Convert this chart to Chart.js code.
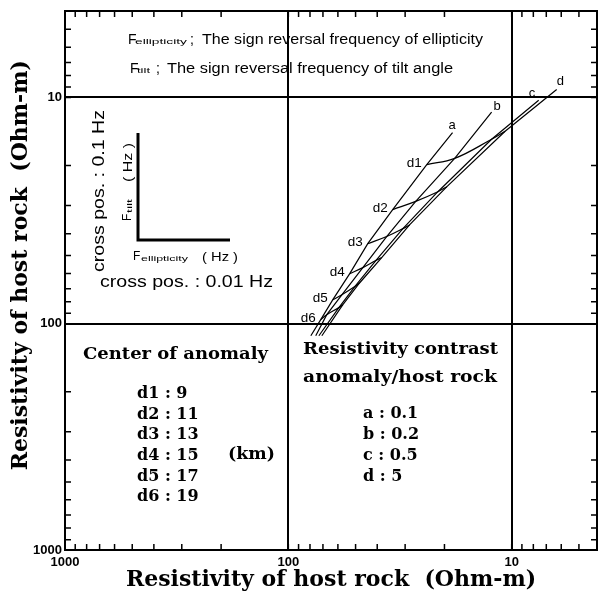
<!DOCTYPE html>
<html>
<head>
<meta charset="utf-8">
<script src="https://cdn.jsdelivr.net/npm/chart.js@4.4.0/dist/chart.umd.min.js"></script>
<style>
  html, body { margin: 0; padding: 0; background: #fff; }
</style>
</head>
<body>
<canvas id="chart" width="599" height="594"></canvas>
<script>
// resistivity contrast lines (anomaly / host rock)
const contrastNames = ['a', 'b', 'c', 'd'];
const contrastRatios = ['0.1', '0.2', '0.5', '5'];

// depth of the anomaly centre
const depthNames = ['d1', 'd2', 'd3', 'd4', 'd5', 'd6'];
const depthKm = [9, 11, 13, 15, 17, 19];

// points on each contrast line: upper end, crossings with d1..d6, lower end
const lineAX = [18.4, 24.0, 34.1, 44.1, 53.1, 63.2, 71.6, 79.3];
const lineAY = [14.3, 19.8, 31.3, 44.3, 60.1, 78.3, 95.9, 113];
const lineBX = [12.3, 18.0, 26.9, 36.3, 46.4, 57.6, 67.3, 75.4];
const lineBY = [11.6, 18.6, 28.8, 41.2, 56.5, 74.5, 91.2, 113];
const lineCX = [7.57, 12.3, 21.4, 30.7, 40.6, 50.4, 59.4, 73.0];
const lineCY = [10.3, 15.3, 26.1, 38.0, 52.6, 68.5, 84.9, 113];
const lineDX = [6.29, 10.7, 19.5, 28.6, 38.2, 47.9, 57.0, 70.8];
const lineDY = [9.22, 14.1, 24.8, 36.5, 51.0, 65.9, 82.4, 113];

const axisMin = 4.15;
const axisMax = 1000;

const linesX = [lineAX, lineBX, lineCX, lineDX];
const linesY = [lineAY, lineBY, lineCY, lineDY];

function isDecade(v) {
    const l = Math.log10(v);
    return Math.abs(l - Math.round(l)) < 1e-6;
}

function logTicks(min, max) {
    const out = [];
    for (let e = Math.floor(Math.log10(min)); e <= Math.ceil(Math.log10(max)); e++) {
        for (let m = 1; m < 10; m++) {
            const v = m * Math.pow(10, e);
            if (v >= min - 1e-9 && v <= max + 1e-9) out.push({ value: v });
        }
    }
    return out;
}

const datasets = [];
contrastNames.forEach((name, k) => {
    datasets.push({
        label: name,
        data: linesX[k].map((x, i) => ({ x: x, y: linesY[k][i] })),
        borderColor: '#000',
        borderWidth: 1.2,
        pointRadius: 0,
        tension: 0
    });
});
depthNames.forEach((name, i) => {
    datasets.push({
        label: name,
        data: linesX.map((xs, k) => ({ x: xs[i + 1], y: linesY[k][i + 1] })),
        borderColor: '#000',
        borderWidth: 1.2,
        pointRadius: 0,
        tension: 0.4
    });
});

const SERIF = '"DejaVu Serif", serif';
const SANS = '"Liberation Sans", Arial, sans-serif';

// draw text squeezed or stretched to a given width
function fitText(ctx, str, x, y, font, width, align) {
    ctx.save();
    ctx.font = font;
    ctx.textBaseline = 'middle';
    ctx.textAlign = 'left';
    const w = ctx.measureText(str).width;
    const sx = width ? width / w : 1;
    let x0 = x;
    if (align === 'right') x0 = x - w * sx;
    ctx.translate(x0, y);
    ctx.scale(sx, 1);
    ctx.fillText(str, 0, 0);
    ctx.restore();
}

const decor = {
    id: 'decor',
    afterDraw(chart) {
        const { ctx, chartArea: area, scales: { x, y } } = chart;
        const L = area.left, T = area.top;
        ctx.save();
        ctx.fillStyle = '#000';
        ctx.strokeStyle = '#000';

        // inward minor ticks on all four sides
        ctx.lineWidth = 1.5;
        ctx.beginPath();
        x.ticks.forEach(t => {
            const px = x.getPixelForValue(t.value);
            ctx.moveTo(px, area.top); ctx.lineTo(px, area.top + 6);
            ctx.moveTo(px, area.bottom); ctx.lineTo(px, area.bottom - 6);
        });
        y.ticks.forEach(t => {
            const py = y.getPixelForValue(t.value);
            ctx.moveTo(area.left, py); ctx.lineTo(area.left + 6, py);
            ctx.moveTo(area.right, py); ctx.lineTo(area.right - 6, py);
        });
        ctx.stroke();
        ctx.lineWidth = 2;
        ctx.strokeRect(area.left, area.top, area.width, area.height);

        // labels of contrast lines at their upper ends
        const endOffsets = [[-1, -7], [5, -6], [-7, -7], [3, -8]];
        contrastNames.forEach((name, k) => {
            const px = x.getPixelForValue(linesX[k][0]) + endOffsets[k][0];
            const py = y.getPixelForValue(linesY[k][0]) + endOffsets[k][1];
            fitText(ctx, name, px - 3, py, '13px ' + SANS);
        });
        // depth labels left of line a
        depthNames.forEach((name, i) => {
            const px = x.getPixelForValue(lineAX[i + 1]) - 5;
            const py = y.getPixelForValue(lineAY[i + 1]) - 1;
            fitText(ctx, name, px, py, '13px ' + SANS, 15, 'right');
        });

        // explanation at the top
        fitText(ctx, 'F', L + 63, T + 29, '14px ' + SANS);
        fitText(ctx, 'ellipticity', L + 70, T + 31, '8px ' + SANS, 52);
        fitText(ctx, ';', L + 125, T + 29, '14px ' + SANS);
        fitText(ctx, 'The sign reversal frequency of ellipticity', L + 137, T + 29, '14px ' + SANS, 281);
        fitText(ctx, 'F', L + 65, T + 58, '14px ' + SANS);
        fitText(ctx, 'tilt', L + 72, T + 60, '8px ' + SANS, 13);
        fitText(ctx, ';', L + 91, T + 58, '14px ' + SANS);
        fitText(ctx, 'The sign reversal frequency of tilt angle', L + 102, T + 58, '14px ' + SANS, 286);

        // small inset axes
        ctx.lineWidth = 3;
        ctx.beginPath();
        ctx.moveTo(L + 73, T + 122);
        ctx.lineTo(L + 73, T + 229);
        ctx.lineTo(L + 165, T + 229);
        ctx.stroke();
        fitText(ctx, 'F', L + 68, T + 246, '12px ' + SANS);
        fitText(ctx, 'ellipticity', L + 76, T + 248, '8px ' + SANS, 47);
        fitText(ctx, '( Hz )', L + 137, T + 246, '13px ' + SANS, 36);
        fitText(ctx, 'cross pos. : 0.01 Hz', L + 35, T + 272, '16px ' + SANS, 173);

        ctx.save();
        ctx.translate(L + 63, T + 210);
        ctx.rotate(-Math.PI / 2);
        fitText(ctx, 'F', 0, 0, '12px ' + SANS);
        fitText(ctx, 'tilt', 8, 2, '8px ' + SANS, 14);
        fitText(ctx, '( Hz )', 39, 0, '13px ' + SANS, 39);
        ctx.restore();

        ctx.save();
        ctx.translate(L + 35, T + 261);
        ctx.rotate(-Math.PI / 2);
        fitText(ctx, 'cross pos. : 0.1 Hz', 0, 0, '16px ' + SANS, 162);
        ctx.restore();

        // centre of anomaly list
        fitText(ctx, 'Center of anomaly', L + 18, T + 344, 'bold 16px ' + SERIF, 185);
        depthNames.forEach((name, i) => {
            fitText(ctx, name + ' : ' + depthKm[i], L + 72, T + 383 + i * 20.6, 'bold 16px ' + SERIF);
        });
        fitText(ctx, '(km)', L + 163, T + 444, 'bold 16px ' + SERIF, 47);

        // resistivity contrast list
        fitText(ctx, 'Resistivity contrast', L + 238, T + 339, 'bold 16px ' + SERIF, 195);
        fitText(ctx, 'anomaly/host rock', L + 238, T + 367, 'bold 16px ' + SERIF, 194);
        contrastNames.forEach((name, k) => {
            fitText(ctx, name + ' : ' + contrastRatios[k], L + 298, T + 403 + k * 21, 'bold 16px ' + SERIF);
        });
        ctx.restore();
    }
};

function axis(titleText, isY) {
    return {
        type: 'logarithmic',
        reverse: true,
        min: axisMin,
        max: axisMax,
        afterBuildTicks: s => { s.ticks = logTicks(axisMin, axisMax); },
        afterFit: s => { if (isY) s.width = 65; else s.height = 44; },
        grid: {
            color: c => (c.tick && isDecade(c.tick.value)) ? '#000' : 'rgba(0,0,0,0)',
            lineWidth: 2,
            drawTicks: false
        },
        border: { display: true, color: '#000', width: 2 },
        ticks: {
            autoSkip: false,
            maxRotation: 0,
            color: '#000',
            padding: isY ? 3 : 5,
            font: { family: SANS, size: 13, weight: 'bold' },
            callback: v => isDecade(v) ? String(Math.round(v)) : ''
        },
        title: {
            display: true,
            text: titleText,
            color: '#000',
            font: { family: SERIF, size: 22, weight: 'bold' },
            padding: isY ? { top: 8, bottom: 0 } : { top: 0, bottom: 1 }
        }
    };
}

new Chart(document.getElementById('chart').getContext('2d'), {
    type: 'line',
    data: { datasets: datasets },
    options: {
        responsive: false,
        animation: false,
        layout: { padding: { top: 11, right: 2, left: 0, bottom: 0 } },
        plugins: {
            legend: { display: false },
            tooltip: { enabled: false }
        },
        scales: {
            x: axis('Resistivity of host rock  (Ohm-m)', false),
            y: axis('    Resistivity of host rock  (Ohm-m)', true)
        }
    },
    plugins: [decor]
});
</script>
</body>
</html>
